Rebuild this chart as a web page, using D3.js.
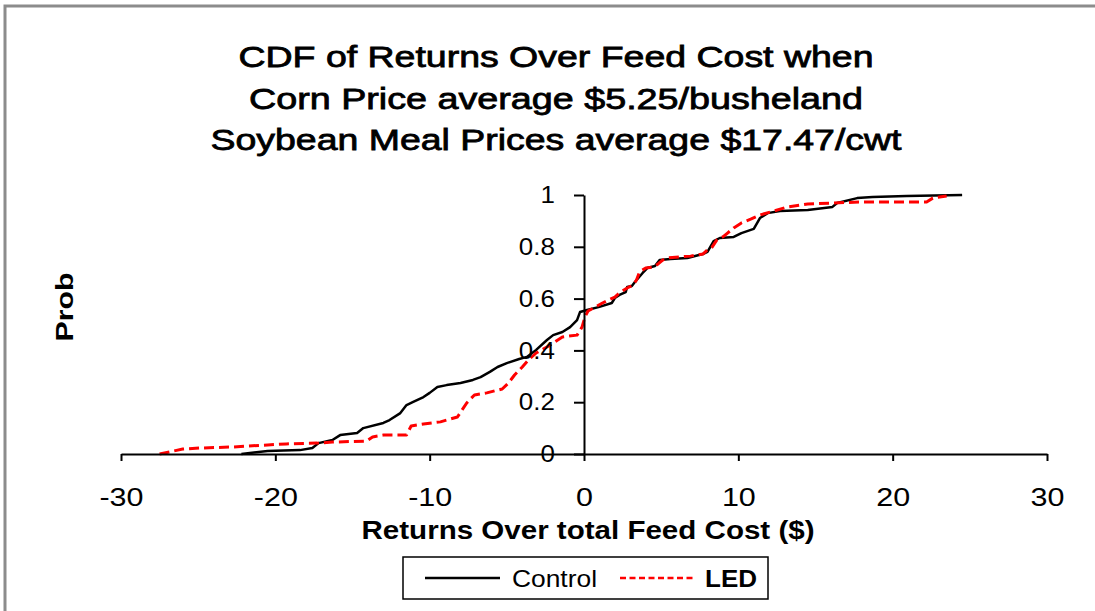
<!DOCTYPE html>
<html>
<head>
<meta charset="utf-8">
<script src="https://cdn.jsdelivr.net/npm/d3@7"></script>
<style>
	body { margin: 0; background: #fff; }
	svg { display: block; font-family: "Liberation Sans", Arial, sans-serif; }
</style>
</head>
<body>
<svg id="chart" width="1095" height="611"></svg>
<script>
// Chart text
const titleLines = [
	"CDF of Returns Over Feed Cost when",
	"Corn Price average $5.25/busheland",
	"Soybean Meal Prices average $17.47/cwt"
];
const xAxisLabel = "Returns Over total Feed Cost ($)";
const yAxisLabel = "Prob";

// Ticks
const xTicks = [-30, -20, -10, 0, 10, 20, 30];
const yTicks = [0, 0.2, 0.4, 0.6, 0.8, 1];

// Series
const seriesNames = ["Control", "LED"];

const controlReturns = [-22.2, -20.5, -18.4, -17.6, -17.2, -16.3, -15.8, -14.7, -14.3, -13.0, -12.6, -11.9, -11.5, -11.1, -10.4, -10.0,
	-9.5, -8.9, -8.0, -7.2, -6.7, -6.1, -5.6, -5.0, -4.2, -3.7, -3.1, -2.4, -2.0, -1.4, -0.9, -0.45, -0.26, 0.2, 1.0, 1.8,
	2.0, 2.3, 2.7, 2.8, 3.1, 3.3, 3.8, 4.1, 4.6, 4.9, 5.6, 6.7, 7.7, 8.0, 8.4, 8.8, 9.7, 10.2, 11.0, 11.4, 11.9, 12.7,
	14.5, 16.1, 16.4, 17.7, 18.7, 20.9, 24.5];
const controlProb = [0.0, 0.012, 0.015, 0.023, 0.042, 0.054, 0.073, 0.081, 0.10, 0.12, 0.131, 0.158, 0.189, 0.20, 0.22, 0.236,
	0.259, 0.266, 0.274, 0.286, 0.297, 0.317, 0.336, 0.351, 0.367, 0.375, 0.402, 0.44, 0.459, 0.471, 0.49, 0.517, 0.548, 0.556, 0.568, 0.583,
	0.602, 0.614, 0.625, 0.645, 0.649, 0.664, 0.699, 0.718, 0.726, 0.749, 0.753, 0.757, 0.772, 0.78, 0.822, 0.834, 0.838, 0.853, 0.869, 0.911, 0.93, 0.938,
	0.942, 0.954, 0.969, 0.988, 0.992, 0.996, 1.0];

const ledReturns = [-27.5, -26.0, -24.9, -22.8, -20.5, -19.3, -17.3, -16.3, -14.1, -13.7, -13.0, -11.5, -11.2, -10.4, -9.3, -8.2,
	-7.6, -7.1, -6.3, -5.3, -4.9, -4.5, -4.0, -3.6, -3.1, -2.4, -2.0, -1.4, -0.45, -0.13, 0.06, 0.26, 0.84, 1.2, 1.7,
	2.0, 2.3, 2.8, 3.2, 3.4, 3.6, 4.0, 4.5, 4.8, 5.1, 5.4, 6.2, 6.9, 7.7, 8.0, 8.3, 8.6, 9.0, 9.3, 9.7, 10.2, 10.8,
	11.4, 12.3, 13.2, 14.5, 16.1, 17.9, 22.2, 22.6, 23.5];
const ledProb = [0.0, 0.019, 0.023, 0.027, 0.035, 0.039, 0.042, 0.046, 0.05, 0.066, 0.073, 0.073, 0.108, 0.116, 0.124, 0.143,
	0.197, 0.228, 0.236, 0.251, 0.274, 0.305, 0.336, 0.363, 0.39, 0.413, 0.429, 0.452, 0.459, 0.49, 0.529, 0.552, 0.571, 0.583, 0.598,
	0.606, 0.622, 0.641, 0.653, 0.672, 0.703, 0.718, 0.722, 0.734, 0.749, 0.757, 0.761, 0.764, 0.772, 0.788, 0.799, 0.826, 0.838, 0.853, 0.873, 0.892, 0.907,
	0.923, 0.938, 0.954, 0.965, 0.969, 0.973, 0.973, 0.988, 0.996];

const svg = d3.select("#chart");

// Outer frame
svg.append("rect")
	.attr("x", 5).attr("y", 6)
	.attr("width", 1200).attr("height", 700)
	.attr("fill", "none")
	.attr("stroke", "#8c8c8c")
	.attr("stroke-width", 3);

// Scales
const xScale = d3.scaleLinear().domain([-30, 30]).range([121, 1047]);
const yScale = d3.scaleLinear().domain([0, 1]).range([454, 195]);

// Title
svg.append("g")
	.selectAll("text")
	.data(titleLines)
	.join("text")
	.attr("x", 556)
	.attr("y", (d, i) => 67 + i * 41.5)
	.attr("text-anchor", "middle")
	.attr("font-size", 30)
	.attr("stroke", "#000")
	.attr("stroke-width", 0.8)
	.attr("textLength", (d, i) => [635, 614, 691][i])
	.attr("lengthAdjust", "spacingAndGlyphs")
	.text(d => d);

// Lines
const line = d3.line()
	.x(d => xScale(d[0]))
	.y(d => yScale(d[1]));

const series = [
	{ name: seriesNames[0], points: d3.zip(controlReturns, controlProb), color: "#000", width: 2.5, dash: null },
	{ name: seriesNames[1], points: d3.zip(ledReturns, ledProb), color: "#ff0000", width: 3, dash: "10,5" }
];

svg.append("g")
	.selectAll("path")
	.data(series)
	.join("path")
	.attr("d", d => line(d.points))
	.attr("fill", "none")
	.attr("stroke", d => d.color)
	.attr("stroke-width", d => d.width)
	.attr("stroke-dasharray", d => d.dash)
	.attr("stroke-linejoin", "round");

// X axis
const xAxisG = svg.append("g")
	.attr("transform", `translate(0,${yScale(0)})`)
	.call(d3.axisBottom(xScale).tickValues(xTicks).tickSize(7).tickSizeOuter(0).tickPadding(27).tickFormat(d => d));

xAxisG.select(".domain").attr("stroke-width", 2);
xAxisG.selectAll(".tick line").attr("stroke-width", 2);
xAxisG.selectAll(".tick text")
	.attr("font-family", "Liberation Sans, Arial, sans-serif")
	.attr("font-size", 25)
	.attr("fill", "#000")
	.attr("transform", "scale(1.22,1)");

// Y axis
const yAxisG = svg.append("g")
	.attr("transform", `translate(${xScale(0)},0)`)
	.call(d3.axisLeft(yScale).tickValues(yTicks).tickSize(10).tickSizeOuter(0).tickPadding(17).tickFormat(d => String(d)));

yAxisG.select(".domain").attr("stroke-width", 2);
yAxisG.selectAll(".tick line").attr("stroke-width", 2);
yAxisG.selectAll(".tick text")
	.attr("font-family", "Liberation Sans, Arial, sans-serif")
	.attr("font-size", 24)
	.attr("fill", "#000")
	.attr("transform", "scale(1.08,1)");

// Axis titles
svg.append("text")
	.attr("x", 588)
	.attr("y", 539)
	.attr("text-anchor", "middle")
	.attr("font-size", 25)
	.attr("font-weight", "bold")
	.attr("textLength", 453)
	.attr("lengthAdjust", "spacingAndGlyphs")
	.text(xAxisLabel);

svg.append("text")
	.attr("transform", "translate(73,307) rotate(-90)")
	.attr("text-anchor", "middle")
	.attr("font-size", 24)
	.attr("font-weight", "bold")
	.attr("textLength", 69)
	.attr("lengthAdjust", "spacingAndGlyphs")
	.text(yAxisLabel);

// Legend
const legend = svg.append("g");

legend.append("rect")
	.attr("x", 403).attr("y", 557)
	.attr("width", 365).attr("height", 42)
	.attr("fill", "#fff")
	.attr("stroke", "#000")
	.attr("stroke-width", 1.5);

const legendItems = legend.selectAll(".item")
	.data(series)
	.join("g")
	.attr("class", "item")
	.attr("transform", (d, i) => `translate(${[425, 620][i]},578)`);

legendItems.append("line")
	.attr("x1", 0).attr("x2", 75)
	.attr("stroke", d => d.color)
	.attr("stroke-width", 2.5)
	.attr("stroke-dasharray", d => d.dash ? "6,3.5" : null);

legendItems.append("text")
	.attr("x", (d, i) => [87, 85][i])
	.attr("y", 9)
	.attr("font-size", 24)
	.attr("font-weight", (d, i) => i === 1 ? "bold" : "normal")
	.attr("textLength", (d, i) => [85, 52][i])
	.attr("lengthAdjust", "spacingAndGlyphs")
	.text(d => d.name);
</script>
</body>
</html>
